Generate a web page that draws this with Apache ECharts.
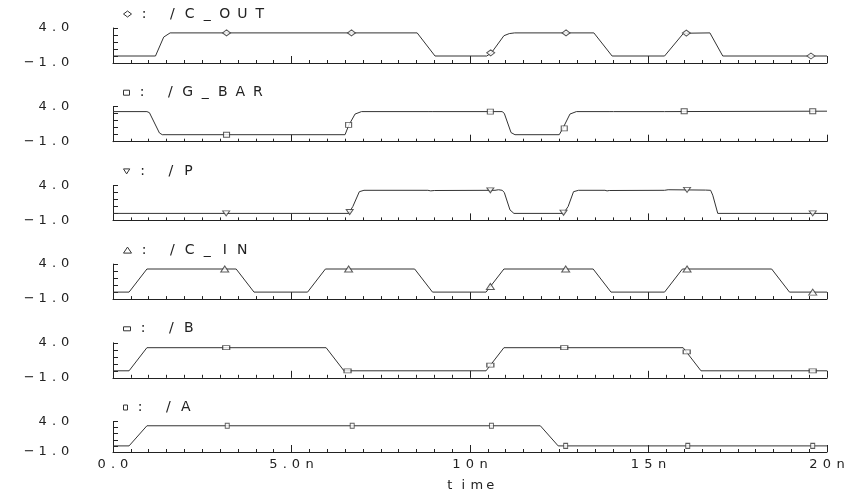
<!DOCTYPE html>
<html><head><meta charset="utf-8">
<script src="https://cdn.jsdelivr.net/npm/echarts@6/dist/echarts.min.js"></script>
<style>html,body{margin:0;padding:0;background:#fff;}#chart{width:859px;height:493px;}</style>
</head><body><div id="chart"></div>
<script>
// ---------- data (time in ns, value in V) ----------
const signalNames = ['/C_OUT', '/G_BAR', '/P', '/C_IN', '/B', '/A'];

const cOutTime = [0, 1.19, 1.42, 1.6, 8.52, 9.02, 10.47, 10.6, 10.95, 11.1, 11.25, 13.47, 13.98, 15.45, 15.98, 16.72, 17.08, 20];
const cOutVolt = [0, 0, 2.7, 3.3, 3.3, 0, 0, 0.45, 2.9, 3.2, 3.3, 3.3, 0, 0, 3.25, 3.3, 0, 0];
const cOutMarkTime = [3.18, 6.68, 10.58, 12.69, 16.06, 19.55];
const cOutMarkVolt = [3.3, 3.3, 0.45, 3.3, 3.27, 0];

const gBarTime = [0, 0.95, 1.02, 1.3, 1.38, 6.5, 6.6, 6.78, 6.96, 8.85, 8.9, 8.96, 10.9, 10.96, 11.15, 11.26, 12.5, 12.6, 12.8, 12.98, 13.92, 13.97, 14.02, 15.45, 15.5, 20];
const gBarVolt = [3.3, 3.3, 3.15, 0.25, 0, 0, 1.3, 2.95, 3.3, 3.3, 3.22, 3.3, 3.3, 3.05, 0.3, 0, 0, 0.9, 2.95, 3.3, 3.3, 3.22, 3.3, 3.3, 3.36, 3.36];
const gBarMarkTime = [3.18, 6.6, 10.57, 12.64, 16.0, 19.6];
const gBarMarkVolt = [0, 1.4, 3.3, 0.9, 3.36, 3.36];

const pTime = [0, 6.6, 6.72, 6.9, 7.03, 8.82, 8.9, 9.0, 10.7, 10.8, 10.9, 10.96, 11.12, 11.23, 12.62, 12.75, 12.9, 13.04, 13.78, 13.84, 13.9, 15.45, 15.55, 16.6, 16.74, 16.8, 16.94, 20];
const pVolt = [0, 0, 1.0, 3.1, 3.3, 3.3, 3.22, 3.27, 3.3, 3.38, 3.3, 3.0, 0.5, 0, 0, 1.0, 3.1, 3.3, 3.3, 3.22, 3.27, 3.3, 3.38, 3.33, 3.3, 2.6, 0, 0];
const pMarkTime = [3.17, 6.63, 10.57, 12.62, 16.08, 19.6];
const pMarkVolt = [0, 0.2, 3.3, 0.1, 3.36, 0];

const cInTime = [0, 0.45, 0.95, 3.45, 3.95, 5.45, 5.95, 8.45, 8.95, 10.45, 10.95, 13.45, 13.95, 15.45, 15.95, 18.45, 18.95, 20];
const cInVolt = [0, 0, 3.3, 3.3, 0, 0, 3.3, 3.3, 0, 0, 3.3, 3.3, 0, 0, 3.3, 3.3, 0, 0];
const cInMarkTime = [3.13, 6.6, 10.57, 12.68, 16.08, 19.6];
const cInMarkVolt = [3.3, 3.3, 0.8, 3.3, 3.3, 0];

const bTime = [0, 0.45, 0.95, 5.97, 6.47, 10.45, 10.95, 15.97, 16.47, 20];
const bVolt = [0, 0, 3.3, 3.3, 0, 0, 3.3, 3.3, 0, 0];
const bMarkTime = [3.17, 6.57, 10.57, 12.64, 16.07, 19.6];
const bMarkVolt = [3.3, 0, 0.8, 3.3, 2.7, 0];

const aTime = [0, 0.45, 0.95, 11.97, 12.47, 20];
const aVolt = [0, 0, 3.3, 3.3, 0, 0];
const aMarkTime = [3.2, 6.7, 10.6, 12.68, 16.1, 19.6];
const aMarkVolt = [3.3, 3.3, 3.3, 0, 0, 0];

const xTickValues = [0, 5, 10, 15, 20];
const xTickLabels = ['0.0', '5.0n', '10n', '15n', '20n'];
const yTickValues = [-1, 0, 1, 2, 3, 4];
const yLabelValues = [-1, 4];
const xName = 'time';

// ---------- styling helpers ----------
const FONT = 'DejaVu Sans';
const INK = '#222';
function spread(s, key) {
  return s.split('').map(function (ch) {
    let k = key;
    if (ch === '.') k = key + 'Dot';
    else if (ch === ' ') k = key + 'Sp';
    else if (ch === ':') k = key + 'Col';
    return '{' + k + '|' + ch + '}';
  }).join('');
}
function richSet(key, size, w, dotW, spW, colW) {
  const base = {fontFamily: FONT, fontSize: size, color: INK, align: 'center'};
  const r = {};
  r[key] = Object.assign({}, base, {width: w});
  r[key + 'Dot'] = Object.assign({}, base, {width: dotW});
  r[key + 'Sp'] = Object.assign({}, base, {width: spW});
  r[key + 'Col'] = Object.assign({}, base, {width: colW});
  return r;
}
const titleRich = richSet('t', 14, 17.5, 9, 12, 15);
const labRich = richSet('l', 13, 13.5, 9, 10, 12);

const panels = [
  {name: signalNames[0], t: cOutTime, v: cOutVolt, mt: cOutMarkTime, mv: cOutMarkVolt, symbol: 'diamond', size: [8, 6]},
  {name: signalNames[1], t: gBarTime, v: gBarVolt, mt: gBarMarkTime, mv: gBarMarkVolt, symbol: 'rect', size: [6, 5]},
  {name: signalNames[2], t: pTime, v: pVolt, mt: pMarkTime, mv: pMarkVolt, symbol: 'path://M0,0L10,0L5,8Z', size: [7, 5]},
  {name: signalNames[3], t: cInTime, v: cInVolt, mt: cInMarkTime, mv: cInMarkVolt, symbol: 'triangle', size: [8, 6]},
  {name: signalNames[4], t: bTime, v: bVolt, mt: bMarkTime, mv: bMarkVolt, symbol: 'rect', size: [7, 4]},
  {name: signalNames[5], t: aTime, v: aVolt, mt: aMarkTime, mv: aMarkVolt, symbol: 'rect', size: [4, 5]}
];

const TOP0 = 28, STEP = 78.7, H = 35, LEFT = 113, RIGHT = 32;
const grid = [], xAxis = [], yAxis = [], series = [], legend = [];

panels.forEach(function (p, i) {
  const top = TOP0 + STEP * i;
  const last = i === panels.length - 1;
  grid.push({left: LEFT, right: RIGHT, top: top, height: H, containLabel: false});
  xAxis.push({
    type: 'value', gridIndex: i, min: 0, max: 20, interval: 5,
    axisLine: {show: true, onZero: false, lineStyle: {color: INK, width: 1}},
    axisTick: {show: true, inside: true, length: 7, lineStyle: {color: INK}},
    minorTick: {show: true, splitNumber: 10, length: 3, lineStyle: {color: INK}},
    splitLine: {show: false}, minorSplitLine: {show: false},
    axisLabel: {
      show: last, margin: 6, showMinLabel: true, showMaxLabel: true, hideOverlap: false,
      formatter: function (val) {
        const k = xTickValues.indexOf(val);
        return k >= 0 ? spread(xTickLabels[k], 'l') : '';
      },
      rich: labRich
    },
    name: last ? spread(xName, 'l') : '',
    nameLocation: 'middle', nameGap: 27,
    nameTextStyle: {rich: labRich}
  });
  yAxis.push({
    type: 'value', gridIndex: i, min: -1, max: 4,
    axisLine: {show: true, onZero: false, lineStyle: {color: INK, width: 1}},
    axisTick: {show: true, inside: true, length: 5, customValues: yTickValues, lineStyle: {color: INK}},
    axisLabel: {
      customValues: yLabelValues, margin: 41,
      formatter: function (val) { return spread(val.toFixed(1).replace('-', '\u2212'), 'l'); },
      rich: labRich
    },
    splitLine: {show: false}
  });
  series.push({
    type: 'line', name: p.name, xAxisIndex: i, yAxisIndex: i,
    data: p.t.map(function (t, j) { return [t, p.v[j]]; }),
    symbol: 'none', showSymbol: false, silent: true,
    lineStyle: {color: '#333', width: 1}
  });
  series.push({
    type: 'scatter', name: p.name, xAxisIndex: i, yAxisIndex: i,
    data: p.mt.map(function (t, j) { return [t, p.mv[j]]; }),
    symbol: p.symbol, symbolSize: p.size, z: 3,
    itemStyle: {color: '#fff', borderColor: '#333', borderWidth: 1}
  });
  legend.push({
    left: 123, top: top - 21, padding: 0, selectedMode: false,
    data: [{name: p.name, icon: p.symbol}],
    itemWidth: p.size[0], itemHeight: p.size[1],
    itemStyle: {color: '#fff', borderColor: '#333', borderWidth: 1},
    formatter: function (n) { return spread(': ' + n, 't'); },
    textStyle: {rich: titleRich}
  });
});

const chart = echarts.init(document.getElementById('chart'), null, {renderer: 'canvas'});
chart.setOption({
  animation: false,
  backgroundColor: '#fff',
  grid: grid, xAxis: xAxis, yAxis: yAxis, series: series, legend: legend
});
</script>
</body></html>
